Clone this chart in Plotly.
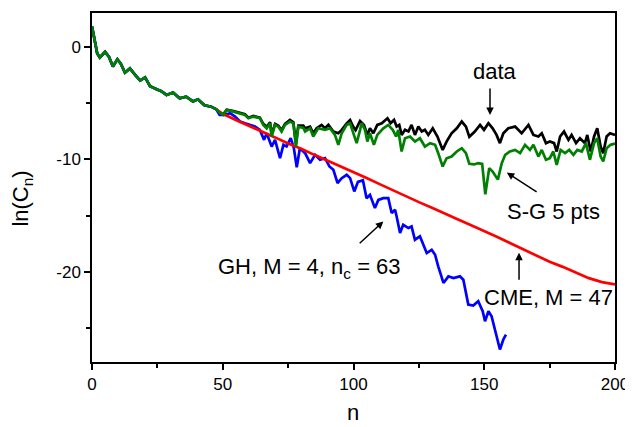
import plotly.graph_objects as go

# ---- data ----
n_early = [0, 1, 2, 3, 5, 6.5, 8, 9.7, 11, 12.6, 14.5, 16.5, 18.4, 20.3, 22.2, 24.7,
           26.5, 28.5, 31, 33.5, 36, 38.6, 40.5, 43, 45.6, 47.5]
ln_early = [1.8, 0.6, -0.6, -0.95, -0.45, -0.9, -1.75, -1.12, -1.5, -2.3, -1.92, -2.5,
            -3.0, -2.72, -3.5, -3.78, -3.95, -4.28, -4.07, -4.58, -4.43, -4.85, -4.67,
            -5.2, -5.32, -5.55]

n_data_tail = [49, 50.2, 51.5, 54.1, 56.6, 58.5, 59.8, 61.7, 64.2, 65.5, 66.8, 68.1, 68.7,
               70, 71.2, 72.5, 73.8, 75.7, 77, 78, 78.9, 80.8, 81.5, 83.4, 84.6, 85.9,
               87.8, 89.1, 90.4, 92.3, 94.2, 95.5, 97.4, 98.7, 99.9, 100.8, 102.5, 104,
               105.3, 106.3, 107.6, 109.1, 110.8, 113, 114.2, 115.5, 116.5, 117.5, 118.4,
               119.7, 121, 122.2, 123.5, 124.8, 126.1, 127.3, 128.6, 130.3, 132.1, 134.1,
               135.6, 137.5, 139.5, 141.4, 143, 144.3, 146.3, 148.4, 149.9, 151.6, 153.2,
               154.7, 156, 157.3, 159.2, 161.8, 164.3, 166.9, 168.8, 170.7, 172, 173.6,
               175.1, 176.7, 177.7, 179, 180.5, 182.2, 183.4, 185.1, 186.6, 188.5, 189.4,
               190.7, 192, 193.2, 194.5, 195.5, 196.8, 198.1, 200]
ln_data_tail = [-5.9, -6.0, -5.6, -5.72, -5.88, -6.0, -6.3, -6.15, -6.3, -6.85, -7.1, -6.7,
                -7.8, -6.85, -7.0, -7.4, -6.85, -6.5, -6.7, -8.6, -7.0, -7.0, -7.24, -7.09,
                -7.68, -7.24, -6.94, -7.24, -6.94, -7.53, -7.68, -7.38, -6.8, -6.5, -7.1,
                -7.4, -6.6, -6.94, -7.83, -7.24, -7.68, -6.94, -6.79, -6.35, -6.79, -6.5,
                -7.09, -6.94, -7.83, -7.38, -7.53, -6.94, -7.83, -7.09, -7.53, -7.38, -7.83,
                -7.24, -7.97, -9.16, -8.42, -7.68, -7.24, -6.64, -7.09, -8.0, -7.55, -6.94,
                -7.38, -6.79, -7.24, -7.83, -8.56, -7.68, -7.24, -7.09, -7.68, -6.94, -7.83,
                -7.97, -7.68, -8.56, -8.42, -8.56, -9.3, -7.97, -7.53, -8.27, -7.83, -8.56,
                -8.12, -8.56, -7.83, -9.3, -7.97, -7.24, -8.86, -9.45, -7.97, -7.68, -7.83]

n_sg_tail = [49, 50.2, 51.5, 54.1, 56.6, 58.5, 59.8, 61.7, 64.2, 65.5, 66.8, 68.1, 68.7, 70,
             71.2, 72.5, 73.8, 75.7, 77, 78, 78.9, 80.8, 81.5, 83.4, 84.6, 86.5, 89.1, 91,
             92.9, 94.2, 95.5, 97.4, 98.7, 99.9, 101.2, 102.5, 103.1, 104.4, 105.3, 106.3,
             107.8, 109.1, 111.4, 113.3, 115, 116.3, 117.1, 118.4, 119.7, 121.6, 123.5,
             125.4, 127.3, 129.3, 131.2, 132.4, 134.1, 135.6, 137.5, 139.5, 141.4, 143,
             144.3, 146.1, 147.7, 149.2, 150.4, 151.9, 153.2, 155.2, 156.7, 158, 159.8,
             161.8, 163.7, 165.6, 167.5, 168.8, 170.7, 172, 173.6, 175.1, 176.4, 177.7,
             179.2, 180.9, 182.5, 184.1, 185.6, 187.3, 188.9, 190.4, 192, 193.2, 194.5,
             195.5, 196.8, 198.3, 200]
ln_sg_tail = [-5.9, -6.05, -5.6, -5.76, -5.91, -6.06, -6.35, -6.2, -6.35, -6.94, -7.24, -6.8,
              -7.97, -6.94, -7.09, -7.53, -6.94, -6.65, -6.8, -8.86, -7.09, -7.2, -7.53,
              -7.24, -7.97, -7.24, -7.38, -7.24, -7.83, -8.71, -7.68, -6.94, -6.8, -7.68,
              -8.56, -7.4, -6.79, -7.38, -8.42, -7.68, -8.71, -7.83, -7.24, -6.94, -7.38,
              -7.97, -7.38, -9.3, -8.12, -7.97, -8.42, -8.12, -8.86, -8.56, -8.71, -9.45,
              -10.63, -9.9, -9.75, -9.3, -9.01, -9.45, -10.4, -10.45, -10.34, -10.4, -13.1,
              -10.78, -11.08, -11.8, -10.34, -9.6, -9.3, -9.16, -9.45, -8.71, -9.16, -8.71,
              -9.75, -9.16, -10.04, -9.9, -9.3, -10.49, -9.16, -9.45, -9.16, -9.6, -9.16,
              -9.3, -8.56, -10.04, -8.56, -8.12, -9.75, -10.19, -9.01, -8.71, -8.6]

n_gh_tail = [48.8, 50.9, 52.8, 54.7, 56.6, 58.5, 60.4, 62.3, 64.2, 65.8, 66.8, 68.7, 70,
             71.9, 73.2, 74.4, 76, 77.2, 78.3, 79.5, 81.5, 83.4, 85.3, 87.2, 89.1, 90.8,
             92.3, 93.9, 95.5, 97.4, 98.7, 100.3, 101.7, 103.6, 105, 106.3, 108.2, 109.5,
             111.4, 113.3, 114.6, 115.9, 116.5, 117.8, 119, 121, 122.2, 123.5, 125.4,
             126.7, 128, 129.9, 131.2, 132.4, 134.4, 136.3, 138.2, 140.7, 142, 143.9,
             145.8, 147.7, 149.4, 150.3, 151.6, 152.8, 154.1, 156, 157.3, 158.3]
ln_gh_tail = [-6.05, -6.05, -5.9, -6.2, -6.64, -6.8, -6.94, -7.09, -7.38, -8.27, -7.68,
              -8.86, -8.27, -9.9, -8.71, -8.86, -8.12, -9.01, -10.7, -9.01, -9.45, -10.34,
              -9.6, -10.04, -9.9, -10.63, -10.93, -12.1, -11.67, -11.37, -11.67, -12.85,
              -12.0, -11.85, -13.45, -13.15, -14.33, -13.6, -13.45, -13.45, -14.77, -14.48,
              -15.07, -16.55, -15.81, -16.1, -15.96, -17.14, -16.84, -17.58, -18.32, -18.03,
              -18.47, -19.5, -20.98, -20.39, -20.54, -20.39, -20.69, -22.9, -22.99, -22.6,
              -23.49, -24.38, -23.49, -23.93, -25.12, -26.89, -26.0, -25.56]

n_cme = [47.5, 50, 55, 60, 65, 70, 75, 80, 85, 90, 95, 100, 105, 110, 115, 120, 125, 130,
         135, 140, 145, 150, 155, 160, 165, 170, 175, 180, 185, 190, 195, 200]
ln_cme = [-5.55, -5.95, -6.5, -7.0, -7.5, -8.05, -8.6, -9.05, -9.6, -10.1, -10.6, -11.1,
          -11.65, -12.2, -12.75, -13.25, -13.8, -14.3, -14.85, -15.35, -15.85, -16.35,
          -16.9, -17.45, -18.0, -18.55, -19.1, -19.55, -20.05, -20.55, -20.9, -21.1]

x_ticks = [0, 50, 100, 150, 200]
x_ticklabels = ["0", "50", "100", "150", "200"]
y_ticks = [-20, -10, 0]
y_ticklabels = ["-20", "-10", "0"]

FONT = "Arial, Liberation Sans, sans-serif"

fig = go.Figure()
fig.add_trace(go.Scatter(x=n_early + n_data_tail, y=ln_early + ln_data_tail, mode="lines",
                         line=dict(color="black", width=2.7), name="data"))
fig.add_trace(go.Scatter(x=n_early + n_gh_tail, y=ln_early + ln_gh_tail, mode="lines",
                         line=dict(color="#0000ff", width=2.7), name="GH"))
fig.add_trace(go.Scatter(x=n_cme, y=ln_cme, mode="lines",
                         line=dict(color="#ff0000", width=2.7), name="CME"))
fig.add_trace(go.Scatter(x=n_early + n_sg_tail, y=ln_early + ln_sg_tail, mode="lines",
                         line=dict(color="#008000", width=2.7), name="S-G"))

axis_common = dict(showline=True, linecolor="black", linewidth=1.5, mirror=True,
                   ticks="outside", ticklen=6, tickwidth=1.5, tickcolor="black",
                   showgrid=False, zeroline=False, automargin=False,
                   tickfont=dict(family=FONT, size=17, color="black"))

fig.update_xaxes(range=[0, 200], tickmode="array", tickvals=x_ticks, ticktext=x_ticklabels,
                 minor=dict(tick0=0, dtick=25, ticks="outside", ticklen=4, tickwidth=1.5,
                            tickcolor="black"),
                 **axis_common)
fig.update_yaxes(range=[-28, 3], tickmode="array", tickvals=y_ticks, ticktext=y_ticklabels,
                 minor=dict(tick0=0, dtick=5, ticks="outside", ticklen=4, tickwidth=1.5,
                            tickcolor="black"),
                 **axis_common)

ann_font = dict(family=FONT, size=22, color="black")
annotations = [
    dict(x=154.1, y=-2.22, xref="x", yref="y", text="data", showarrow=False, font=ann_font),
    dict(x=176.3, y=-14.6, xref="x", yref="y", text="S-G 5 pts", showarrow=False, font=ann_font),
    dict(x=47.4, y=-19.62, xref="x", yref="y", xanchor="left",
         text="GH, M = 4, n<sub>c</sub> = 63", showarrow=False, font=ann_font),
    dict(x=174.4, y=-22.28, xref="x", yref="y", text="CME, M = 47", showarrow=False, font=ann_font),
    dict(x=0.499, y=-0.146, xref="paper", yref="paper", text="n", showarrow=False,
         font=ann_font, xanchor="center", yanchor="middle"),
    dict(x=-0.134, y=0.468, xref="paper", yref="paper", text="ln(C<sub>n</sub>)",
         showarrow=False, font=ann_font, textangle=-90, xanchor="center", yanchor="middle"),
]
arrows = [
    (152.2, -3.58, 152.2, -6.06),
    (170.6, -12.97, 158.6, -11.17),
    (101.8, -17.58, 111.4, -15.51),
    (163.3, -20.83, 163.3, -18.29),
]
for ax_, ay_, x_, y_ in arrows:
    annotations.append(dict(x=x_, y=y_, ax=ax_, ay=ay_, xref="x", yref="y", axref="x",
                            ayref="y", text="", showarrow=True, arrowhead=2, arrowsize=1,
                            arrowwidth=1.5, arrowcolor="black", standoff=0, startstandoff=0))

# page body adds an 8px offset, so the figure is sized/margined to compensate
fig.update_layout(width=625, height=419, margin=dict(l=84, r=18, t=5, b=65),
                  paper_bgcolor="white", plot_bgcolor="white", showlegend=False,
                  annotations=annotations, font=dict(family=FONT))

fig.write_html("out.html")
